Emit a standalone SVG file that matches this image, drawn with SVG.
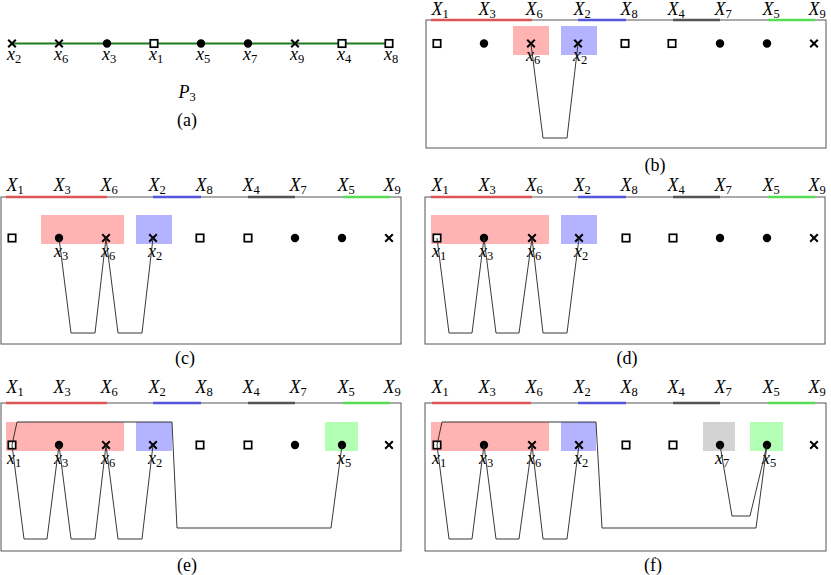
<svg xmlns="http://www.w3.org/2000/svg" xmlns:xlink="http://www.w3.org/1999/xlink" width="831" height="575" viewBox="0 0 831 575">
<style>
.box{fill:none;stroke:#555;stroke-width:1}
.sq{fill:#fff;stroke:#000;stroke-width:1.7}
.dot{fill:#000}
.cr{fill:none;stroke:#000;stroke-width:2}
.con{fill:none;stroke:#222;stroke-width:0.9}
.t{font-family:"Liberation Serif",serif;font-size:18px;fill:#000}
.it{font-style:italic}
.sub{font-style:normal;font-size:12.5px}
.rr{fill:#ffb3b3}.rb{fill:#b3b3ff}.rg{fill:#b3ffb3}.rk{fill:#d3d3d3}
.br{stroke:#dd5555;stroke-width:2.5}.bb{stroke:#5555dd;stroke-width:2.5}.bk{stroke:#555;stroke-width:2.5}.bg{stroke:#55dd55;stroke-width:2.5}
</style>
<defs>
<rect id="sq" class="sq" x="-3.7" y="-3.7" width="7.4" height="7.4"/>
<circle id="dot" class="dot" r="4.2"/>
<path id="cr" class="cr" d="M-3.8,-3.8L3.8,3.8M-3.8,3.8L3.8,-3.8"/>
</defs>

<!-- Panel (a) -->
<g id="panel-a">
<line x1="12" y1="43.5" x2="389" y2="43.5" stroke="#1f7a1f" stroke-width="2"/>
<g id="a-x2"><use xlink:href="#cr" x="12" y="43.5"/><text class="t it" x="14" y="60" text-anchor="middle">x<tspan class="sub" dy="3">2</tspan></text></g>
<g id="a-x6"><use xlink:href="#cr" x="59" y="43.5"/><text class="t it" x="61" y="60" text-anchor="middle">x<tspan class="sub" dy="3">6</tspan></text></g>
<g id="a-x3"><use xlink:href="#dot" x="107" y="43.5"/><text class="t it" x="109" y="60" text-anchor="middle">x<tspan class="sub" dy="3">3</tspan></text></g>
<g id="a-x1"><use xlink:href="#sq" x="154" y="43.5"/><text class="t it" x="156" y="60" text-anchor="middle">x<tspan class="sub" dy="3">1</tspan></text></g>
<g id="a-x5"><use xlink:href="#dot" x="201" y="43.5"/><text class="t it" x="203" y="60" text-anchor="middle">x<tspan class="sub" dy="3">5</tspan></text></g>
<g id="a-x7"><use xlink:href="#dot" x="248" y="43.5"/><text class="t it" x="250" y="60" text-anchor="middle">x<tspan class="sub" dy="3">7</tspan></text></g>
<g id="a-x9"><use xlink:href="#cr" x="295" y="43.5"/><text class="t it" x="297" y="60" text-anchor="middle">x<tspan class="sub" dy="3">9</tspan></text></g>
<g id="a-x4"><use xlink:href="#sq" x="342" y="43.5"/><text class="t it" x="344" y="60" text-anchor="middle">x<tspan class="sub" dy="3">4</tspan></text></g>
<g id="a-x8"><use xlink:href="#sq" x="389" y="43.5"/><text class="t it" x="391" y="60" text-anchor="middle">x<tspan class="sub" dy="3">8</tspan></text></g>
<text class="t it" x="187" y="98" text-anchor="middle">P<tspan class="sub" dy="3">3</tspan></text>
<text class="t" x="187" y="126" text-anchor="middle">(a)</text>
</g>

<!-- Panel (b) -->
<g id="panel-b">
<rect class="box" x="426" y="20" width="400" height="128"/>
<line class="br" x1="431" y1="20" x2="532" y2="20"/>
<line class="bb" x1="578" y1="20" x2="626" y2="20"/>
<line class="bk" x1="673" y1="20" x2="720" y2="20"/>
<line class="bg" x1="768" y1="20" x2="815" y2="20"/>
<g class="t it" text-anchor="middle">
<text x="440" y="15">X<tspan class="sub" dy="3">1</tspan></text>
<text x="487" y="15">X<tspan class="sub" dy="3">3</tspan></text>
<text x="534" y="15">X<tspan class="sub" dy="3">6</tspan></text>
<text x="582" y="15">X<tspan class="sub" dy="3">2</tspan></text>
<text x="629" y="15">X<tspan class="sub" dy="3">8</tspan></text>
<text x="676" y="15">X<tspan class="sub" dy="3">4</tspan></text>
<text x="723" y="15">X<tspan class="sub" dy="3">7</tspan></text>
<text x="771" y="15">X<tspan class="sub" dy="3">5</tspan></text>
<text x="817" y="15">X<tspan class="sub" dy="3">9</tspan></text>
</g>
<rect class="rr" x="513" y="26" width="36" height="29"/>
<rect class="rb" x="561" y="26" width="36" height="29"/>
<use xlink:href="#sq" x="437" y="43.5"/>
<use xlink:href="#dot" x="484" y="43.5"/>
<g id="b-x6"><use xlink:href="#cr" x="531" y="43.5"/><text class="t it" x="533" y="61" text-anchor="middle">x<tspan class="sub" dy="3">6</tspan></text></g>
<g id="b-x2"><use xlink:href="#cr" x="578" y="43.5"/><text class="t it" x="580" y="61" text-anchor="middle">x<tspan class="sub" dy="3">2</tspan></text></g>
<use xlink:href="#sq" x="625" y="43.5"/>
<use xlink:href="#sq" x="672" y="43.5"/>
<use xlink:href="#dot" x="720" y="43.5"/>
<use xlink:href="#dot" x="767" y="43.5"/>
<use xlink:href="#cr" x="814" y="43.5"/>
<text class="t" x="655" y="171" text-anchor="middle">(b)</text>
</g>

<!-- Panel (c) -->
<g id="panel-c">
<rect class="box" x="1" y="197" width="400" height="147"/>
<line class="br" x1="6" y1="197" x2="107" y2="197"/>
<line class="bb" x1="153" y1="197" x2="201" y2="197"/>
<line class="bk" x1="248" y1="197" x2="295" y2="197"/>
<line class="bg" x1="343" y1="197" x2="390" y2="197"/>
<g class="t it" text-anchor="middle">
<text x="15" y="191">X<tspan class="sub" dy="3">1</tspan></text>
<text x="62" y="191">X<tspan class="sub" dy="3">3</tspan></text>
<text x="109" y="191">X<tspan class="sub" dy="3">6</tspan></text>
<text x="157" y="191">X<tspan class="sub" dy="3">2</tspan></text>
<text x="204" y="191">X<tspan class="sub" dy="3">8</tspan></text>
<text x="251" y="191">X<tspan class="sub" dy="3">4</tspan></text>
<text x="298" y="191">X<tspan class="sub" dy="3">7</tspan></text>
<text x="346" y="191">X<tspan class="sub" dy="3">5</tspan></text>
<text x="392" y="191">X<tspan class="sub" dy="3">9</tspan></text>
</g>
<rect class="rr" x="41" y="215" width="83" height="29"/>
<rect class="rb" x="136" y="215" width="36" height="29"/>
<use xlink:href="#sq" x="12" y="238"/>
<g id="c-x3"><use xlink:href="#dot" x="59" y="238"/><text class="t it" x="61" y="257" text-anchor="middle">x<tspan class="sub" dy="3">3</tspan></text></g>
<g id="c-x6"><use xlink:href="#cr" x="106" y="238"/><text class="t it" x="108" y="257" text-anchor="middle">x<tspan class="sub" dy="3">6</tspan></text></g>
<g id="c-x2"><use xlink:href="#cr" x="153" y="238"/><text class="t it" x="155" y="257" text-anchor="middle">x<tspan class="sub" dy="3">2</tspan></text></g>
<use xlink:href="#sq" x="200" y="238"/>
<use xlink:href="#sq" x="248" y="238"/>
<use xlink:href="#dot" x="295" y="238"/>
<use xlink:href="#dot" x="342" y="238"/>
<use xlink:href="#cr" x="389" y="238"/>
<text class="t" x="185" y="364" text-anchor="middle">(c)</text>
</g>

<!-- Panel (d) -->
<g id="panel-d">
<rect class="box" x="425" y="197" width="400" height="147"/>
<line class="br" x1="431" y1="197" x2="532" y2="197"/>
<line class="bb" x1="578" y1="197" x2="626" y2="197"/>
<line class="bk" x1="673" y1="197" x2="720" y2="197"/>
<line class="bg" x1="768" y1="197" x2="815" y2="197"/>
<g class="t it" text-anchor="middle">
<text x="440" y="191">X<tspan class="sub" dy="3">1</tspan></text>
<text x="487" y="191">X<tspan class="sub" dy="3">3</tspan></text>
<text x="534" y="191">X<tspan class="sub" dy="3">6</tspan></text>
<text x="582" y="191">X<tspan class="sub" dy="3">2</tspan></text>
<text x="629" y="191">X<tspan class="sub" dy="3">8</tspan></text>
<text x="676" y="191">X<tspan class="sub" dy="3">4</tspan></text>
<text x="723" y="191">X<tspan class="sub" dy="3">7</tspan></text>
<text x="771" y="191">X<tspan class="sub" dy="3">5</tspan></text>
<text x="817" y="191">X<tspan class="sub" dy="3">9</tspan></text>
</g>
<rect class="rr" x="431" y="215" width="118" height="29"/>
<rect class="rb" x="561" y="215" width="36" height="29"/>
<g id="d-x1"><use xlink:href="#sq" x="437" y="238"/><text class="t it" x="439" y="257" text-anchor="middle">x<tspan class="sub" dy="3">1</tspan></text></g>
<g id="d-x3"><use xlink:href="#dot" x="484" y="238"/><text class="t it" x="486" y="257" text-anchor="middle">x<tspan class="sub" dy="3">3</tspan></text></g>
<g id="d-x6"><use xlink:href="#cr" x="532" y="238"/><text class="t it" x="534" y="257" text-anchor="middle">x<tspan class="sub" dy="3">6</tspan></text></g>
<g id="d-x2"><use xlink:href="#cr" x="579" y="238"/><text class="t it" x="581" y="257" text-anchor="middle">x<tspan class="sub" dy="3">2</tspan></text></g>
<use xlink:href="#sq" x="626" y="238"/>
<use xlink:href="#sq" x="673" y="238"/>
<use xlink:href="#dot" x="720" y="238"/>
<use xlink:href="#dot" x="767" y="238"/>
<use xlink:href="#cr" x="814" y="238"/>
<text class="t" x="627" y="364" text-anchor="middle">(d)</text>
</g>

<!-- Panel (e) -->
<g id="panel-e">
<rect class="box" x="1" y="403" width="400" height="148"/>
<line class="br" x1="6" y1="403" x2="107" y2="403"/>
<line class="bb" x1="153" y1="403" x2="201" y2="403"/>
<line class="bk" x1="248" y1="403" x2="295" y2="403"/>
<line class="bg" x1="343" y1="403" x2="390" y2="403"/>
<g class="t it" text-anchor="middle">
<text x="15" y="393">X<tspan class="sub" dy="3">1</tspan></text>
<text x="62" y="393">X<tspan class="sub" dy="3">3</tspan></text>
<text x="109" y="393">X<tspan class="sub" dy="3">6</tspan></text>
<text x="157" y="393">X<tspan class="sub" dy="3">2</tspan></text>
<text x="204" y="393">X<tspan class="sub" dy="3">8</tspan></text>
<text x="251" y="393">X<tspan class="sub" dy="3">4</tspan></text>
<text x="298" y="393">X<tspan class="sub" dy="3">7</tspan></text>
<text x="346" y="393">X<tspan class="sub" dy="3">5</tspan></text>
<text x="392" y="393">X<tspan class="sub" dy="3">9</tspan></text>
</g>
<rect class="rr" x="6" y="422" width="118" height="29"/>
<rect class="rb" x="136" y="422" width="36" height="29"/>
<rect class="rg" x="325" y="422" width="33" height="29"/>
<g id="e-x1"><use xlink:href="#sq" x="12" y="445"/><text class="t it" x="14" y="464" text-anchor="middle">x<tspan class="sub" dy="3">1</tspan></text></g>
<g id="e-x3"><use xlink:href="#dot" x="59" y="445"/><text class="t it" x="61" y="464" text-anchor="middle">x<tspan class="sub" dy="3">3</tspan></text></g>
<g id="e-x6"><use xlink:href="#cr" x="106" y="445"/><text class="t it" x="108" y="464" text-anchor="middle">x<tspan class="sub" dy="3">6</tspan></text></g>
<g id="e-x2"><use xlink:href="#cr" x="153" y="445"/><text class="t it" x="155" y="464" text-anchor="middle">x<tspan class="sub" dy="3">2</tspan></text></g>
<use xlink:href="#sq" x="200" y="445"/>
<use xlink:href="#sq" x="248" y="445"/>
<use xlink:href="#dot" x="295" y="445"/>
<g id="e-x5"><use xlink:href="#dot" x="342" y="445"/><text class="t it" x="344" y="464" text-anchor="middle">x<tspan class="sub" dy="3">5</tspan></text></g>
<use xlink:href="#cr" x="389" y="445"/>
<text class="t" x="187" y="571" text-anchor="middle">(e)</text>
</g>

<!-- Panel (f) -->
<g id="panel-f">
<rect class="box" x="425" y="403" width="401" height="148"/>
<line class="br" x1="432" y1="403" x2="531" y2="403"/>
<line class="bb" x1="578" y1="403" x2="626" y2="403"/>
<line class="bk" x1="673" y1="403" x2="720" y2="403"/>
<line class="bg" x1="768" y1="403" x2="815" y2="403"/>
<g class="t it" text-anchor="middle">
<text x="440" y="393">X<tspan class="sub" dy="3">1</tspan></text>
<text x="487" y="393">X<tspan class="sub" dy="3">3</tspan></text>
<text x="534" y="393">X<tspan class="sub" dy="3">6</tspan></text>
<text x="582" y="393">X<tspan class="sub" dy="3">2</tspan></text>
<text x="629" y="393">X<tspan class="sub" dy="3">8</tspan></text>
<text x="676" y="393">X<tspan class="sub" dy="3">4</tspan></text>
<text x="723" y="393">X<tspan class="sub" dy="3">7</tspan></text>
<text x="771" y="393">X<tspan class="sub" dy="3">5</tspan></text>
<text x="817" y="393">X<tspan class="sub" dy="3">9</tspan></text>
</g>
<rect class="rr" x="431" y="422" width="118" height="29"/>
<rect class="rb" x="561" y="422" width="35" height="29"/>
<rect class="rk" x="703" y="422" width="32" height="29"/>
<rect class="rg" x="750" y="422" width="33" height="29"/>
<g id="f-x1"><use xlink:href="#sq" x="437" y="445"/><text class="t it" x="439" y="464" text-anchor="middle">x<tspan class="sub" dy="3">1</tspan></text></g>
<g id="f-x3"><use xlink:href="#dot" x="484" y="445"/><text class="t it" x="486" y="464" text-anchor="middle">x<tspan class="sub" dy="3">3</tspan></text></g>
<g id="f-x6"><use xlink:href="#cr" x="532" y="445"/><text class="t it" x="534" y="464" text-anchor="middle">x<tspan class="sub" dy="3">6</tspan></text></g>
<g id="f-x2"><use xlink:href="#cr" x="579" y="445"/><text class="t it" x="581" y="464" text-anchor="middle">x<tspan class="sub" dy="3">2</tspan></text></g>
<use xlink:href="#sq" x="626" y="445"/>
<use xlink:href="#sq" x="673" y="445"/>
<g id="f-x7"><use xlink:href="#dot" x="720" y="445"/><text class="t it" x="722" y="464" text-anchor="middle">x<tspan class="sub" dy="3">7</tspan></text></g>
<g id="f-x5"><use xlink:href="#dot" x="767" y="445"/><text class="t it" x="769" y="464" text-anchor="middle">x<tspan class="sub" dy="3">5</tspan></text></g>
<use xlink:href="#cr" x="814" y="445"/>
<text class="t" x="653" y="571" text-anchor="middle">(f)</text>
</g>

<!-- Connectors -->
<g id="connectors" class="con">
<path d="M531,44 L543,138 L567,138 L578,44"/>
<path d="M59,238 L71,333 L95,333 L106,238 L118,333 L142,333 L153,238"/>
<path d="M437,238 L449,333 L472,333 L484,238 L496,333 L519,333 L532,238 L543,333 L567,333 L579,238"/>
<path d="M153,445 L142,539 L118,539 L106,445 L95,539 L71,539 L59,445 L47,539 L24,539 L12,445 L17,422 L172,422 L177,528 L331,528 L342,445"/>
<path d="M579,445 L567,539 L543,539 L532,445 L519,539 L496,539 L484,445 L472,539 L449,539 L437,445 L442,422 L596,422 L602,528 L756,528 L767,445"/>
<path d="M720,445 L732,516 L750,516 L767,445"/>
</g>
</svg>
